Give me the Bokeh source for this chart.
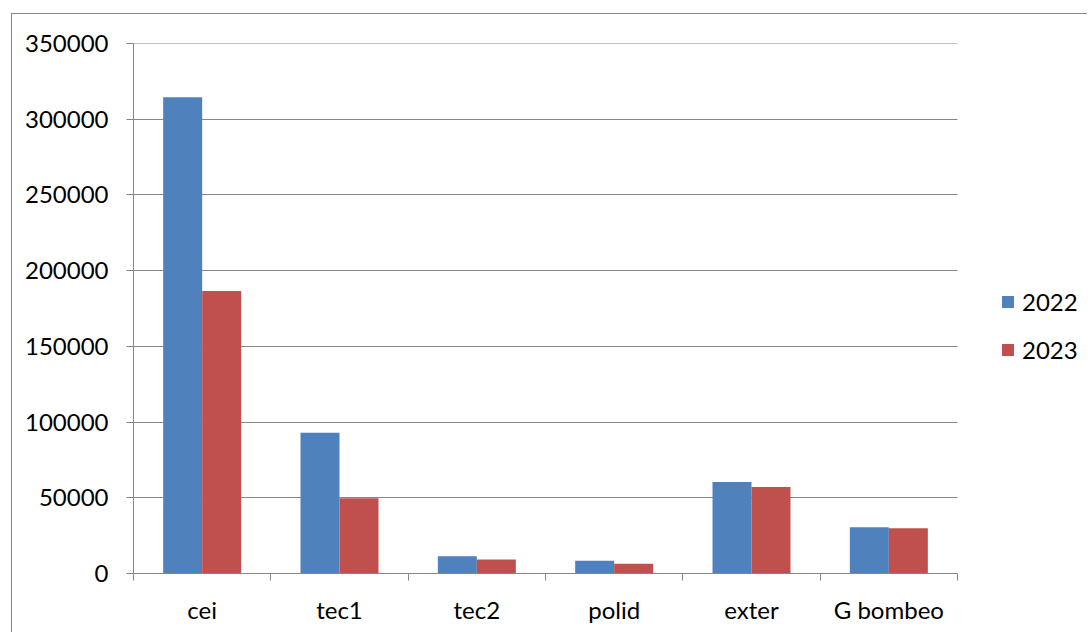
from bokeh.plotting import figure
from bokeh.models import (FixedTicker, Legend, LegendItem, Range1d,
                          ColumnDataSource, BasicTickFormatter)
from bokeh.embed import file_html
from bokeh.resources import INLINE

categories = ["cei", "tec1", "tec2", "polid", "exter", "G bombeo"]
series_names = ["2022", "2023"]
values_2022 = [314500, 93000, 11400, 8400, 60500, 30600]
values_2023 = [186500, 49700, 9200, 6400, 57200, 29900]
y_ticks = [0, 50000, 100000, 150000, 200000, 250000, 300000, 350000]

FONT = "Lato"
FONT_SIZE = "24px"
GREY = "#868686"
BLUE = "#4F81BD"
RED = "#C0504D"
BAR_W = 0.284

# page geometry (px): plot area spans 133..957 horizontally; the frame runs on
# to the right edge so the legend can sit beside the plot area
PAGE_W, PLOT_LEFT, PLOT_RIGHT = 1088, 133, 957
n_cat = len(categories)
x_end = n_cat * (PAGE_W - PLOT_LEFT) / (PLOT_RIGHT - PLOT_LEFT)

centers = [i + 0.5 for i in range(n_cat)]
edges = list(range(n_cat + 1))
src = ColumnDataSource(dict(
    cat=categories,
    x2022=[c - BAR_W / 2 for c in centers],
    x2023=[c + BAR_W / 2 for c in centers],
    v2022=values_2022,
    v2023=values_2023,
))

# the chart area sits 11px in / 13px down, framed on its left and top edges
p = figure(width=1076, height=619, output_backend="svg", toolbar_location=None,
           x_range=Range1d(0, x_end),
           y_range=Range1d(0, y_ticks[-1] * 1.000001),
           min_border_left=121, min_border_right=0, min_border_top=29,
           min_border_bottom=60)
p.margin = (13, 0, 0, 11)
p.styles = {"border-left": f"1px solid {GREY}", "border-top": f"1px solid {GREY}"}
p.outline_line_color = None
p.background_fill_color = "white"
p.border_fill_color = "white"

r22 = p.vbar(x="x2022", top="v2022", width=BAR_W, source=src,
             fill_color=BLUE, line_color=None)
r23 = p.vbar(x="x2023", top="v2023", width=BAR_W, source=src,
             fill_color=RED, line_color=None)

# y axis
p.yaxis.ticker = FixedTicker(ticks=y_ticks)
p.yaxis.formatter = BasicTickFormatter(use_scientific=False)
p.yaxis.major_tick_in = 0
p.yaxis.major_tick_out = 7
p.yaxis.minor_tick_line_color = None
p.yaxis.major_label_standoff = 18
p.yaxis.axis_line_color = GREY
p.yaxis.major_tick_line_color = GREY

# x axis: labels at category centres, tick marks at category edges
p.xaxis.ticker = FixedTicker(ticks=centers, minor_ticks=edges)
p.xaxis.major_label_overrides = {c: name for c, name in zip(centers, categories)}
p.xaxis.bounds = (0, n_cat)
p.xaxis.major_tick_in = 0
p.xaxis.major_tick_out = 0
p.xaxis.minor_tick_in = 0
p.xaxis.minor_tick_out = 7
p.xaxis.minor_tick_line_color = GREY
p.xaxis.axis_line_color = GREY
p.xaxis.major_label_standoff = 14

for ax in (p.xaxis, p.yaxis):
    ax.major_label_text_font = FONT
    ax.major_label_text_font_size = FONT_SIZE
    ax.major_label_text_color = "black"

p.xgrid.visible = False
p.ygrid.ticker = FixedTicker(ticks=y_ticks)
p.ygrid.cross_bounds = (0, n_cat)
p.ygrid.grid_line_color = GREY
p.ygrid.grid_line_width = 1

legend = Legend(items=[LegendItem(label=series_names[0], renderers=[r22]),
                       LegendItem(label=series_names[1], renderers=[r23])],
                location=(867, 209), orientation="vertical")
legend.border_line_color = None
legend.background_fill_alpha = 0
legend.padding = 0
legend.margin = 0
legend.glyph_width = 15
legend.glyph_height = 15
legend.label_standoff = 7
legend.spacing = 19
legend.label_text_font = FONT
legend.label_text_font_size = FONT_SIZE
legend.label_text_color = "black"
p.add_layout(legend)

open("out.html", "w").write(file_html(p, INLINE))
